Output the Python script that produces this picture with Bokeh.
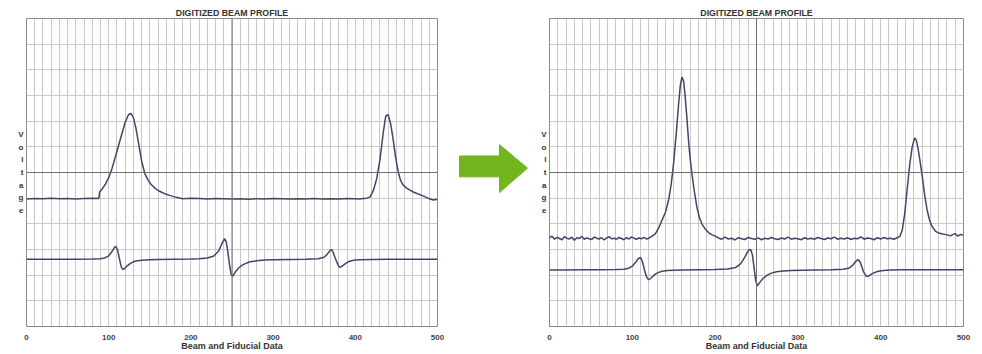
from bokeh.plotting import figure
from bokeh.models import Range1d, FixedTicker, SingleIntervalTicker, Span
from bokeh.layouts import row
from bokeh.embed import file_html
from bokeh.resources import INLINE

TITLE = "DIGITIZED BEAM PROFILE"
X_LABEL = "Beam and Fiducial Data"
Y_LABEL = "Voltage"
x_ticks = [0, 100, 200, 300, 400, 500]
center_x = 250
center_y = 6

# ---- left panel (before) ----
left_beam_x = [0, 10, 20, 30, 40, 50, 60, 70, 80, 88, 89, 92, 96, 100, 104, 108, 112, 116, 120, 124, 127,
               130, 133, 136, 140, 144, 148, 152, 156, 160, 165, 170, 175, 180, 185, 190, 200, 210, 220,
               230, 240, 250, 260, 270, 280, 290, 300, 310, 320, 330, 340, 350, 360, 370, 380, 390, 400,
               405, 410, 414, 418, 422, 426, 430, 434, 437, 440, 443, 446, 449, 452, 455, 458, 462, 466,
               470, 475, 480, 485, 490, 495, 500]
left_beam_y = [4.97, 4.99, 4.98, 5.00, 4.98, 4.99, 4.97, 4.99, 5.00, 4.99, 5.25, 5.35, 5.55, 5.80, 6.15,
               6.60, 7.05, 7.50, 7.95, 8.25, 8.30, 8.15, 7.75, 7.20, 6.45, 5.95, 5.70, 5.52, 5.40, 5.30,
               5.22, 5.15, 5.10, 5.05, 5.02, 4.98, 5.00, 4.99, 4.97, 4.99, 4.98, 4.97, 4.98, 4.96, 4.98,
               4.97, 4.99, 4.98, 4.97, 4.98, 4.97, 4.99, 4.97, 4.98, 4.97, 4.99, 4.98, 4.97, 4.99, 5.00,
               5.05, 5.30, 5.75, 6.50, 7.55, 8.20, 8.25, 7.90, 7.30, 6.60, 6.05, 5.70, 5.52, 5.40, 5.32,
               5.25, 5.18, 5.12, 5.05, 4.98, 4.93, 4.96]

left_fid_x = [0, 20, 40, 60, 80, 90, 95, 100, 104, 107, 109, 111, 113, 115, 117, 119, 122, 126, 130, 135,
              140, 150, 160, 180, 200, 210, 220, 228, 234, 238, 241, 243, 245, 247, 249, 251, 254, 258,
              262, 266, 272, 280, 290, 300, 320, 340, 355, 362, 366, 369, 371, 373, 375, 377, 379, 381,
              384, 388, 392, 398, 405, 420, 440, 460, 480, 500]
left_fid_y = [2.62, 2.62, 2.62, 2.62, 2.63, 2.64, 2.67, 2.75, 2.92, 3.08, 3.12, 2.95, 2.65, 2.35, 2.22,
              2.25, 2.35, 2.45, 2.52, 2.56, 2.58, 2.60, 2.61, 2.62, 2.63, 2.64, 2.67, 2.75, 2.95, 3.25,
              3.42, 3.30, 2.90, 2.40, 2.02, 1.96, 2.12, 2.28, 2.38, 2.45, 2.52, 2.56, 2.59, 2.60, 2.61,
              2.62, 2.64, 2.70, 2.82, 2.95, 3.00, 2.90, 2.72, 2.55, 2.40, 2.31, 2.35, 2.45, 2.53, 2.58,
              2.60, 2.61, 2.62, 2.62, 2.62, 2.62]

# ---- right panel (after) ----
right_beam_x = [0, 3, 6, 9, 12, 15, 18, 21, 24, 27, 30, 33, 36, 39, 42, 45, 48, 51, 54, 57, 60, 63, 66,
                69, 72, 75, 78, 81, 84, 87, 90, 93, 96, 99, 102, 105, 108, 111, 114, 117, 120, 124, 128,
                132, 136, 140, 144, 147, 150, 153, 156, 158, 160, 162, 164, 166, 168, 170, 172, 175, 178,
                181, 184, 188, 192, 196, 200, 204, 208, 212, 216, 220, 224, 228, 232, 236, 240, 244, 248,
                252, 256, 260, 264, 268, 272, 276, 280, 284, 288, 292, 296, 300, 304, 308, 312, 316, 320,
                324, 328, 332, 336, 340, 344, 348, 352, 356, 360, 364, 368, 372, 376, 380, 384, 388, 392,
                396, 400, 404, 408, 412, 416, 420, 423, 426, 429, 432, 435, 438, 441, 443, 445, 447, 450,
                453, 456, 459, 462, 466, 470, 475, 480, 484, 487, 490, 493, 496, 500]
right_beam_y = [3.45, 3.52, 3.40, 3.47, 3.43, 3.38, 3.50, 3.44, 3.41, 3.48, 3.36, 3.46, 3.43, 3.51, 3.40,
                3.45, 3.42, 3.39, 3.49, 3.44, 3.41, 3.46, 3.37, 3.45, 3.50, 3.42, 3.44, 3.40, 3.47, 3.43,
                3.38, 3.46, 3.41, 3.49, 3.44, 3.40, 3.45, 3.42, 3.47, 3.41, 3.44, 3.52, 3.62, 3.85, 4.15,
                4.45, 4.95, 5.55, 6.40, 7.50, 8.70, 9.40, 9.72, 9.55, 8.90, 8.10, 7.20, 6.50, 5.95, 5.25,
                4.65, 4.25, 4.00, 3.80, 3.66, 3.58, 3.52, 3.45, 3.40, 3.48, 3.41, 3.44, 3.37, 3.46, 3.42,
                3.39, 3.47, 3.43, 3.40, 3.45, 3.38, 3.44, 3.41, 3.47, 3.42, 3.39, 3.45, 3.41, 3.48, 3.40,
                3.44, 3.42, 3.38, 3.46, 3.41, 3.44, 3.40, 3.47, 3.43, 3.39, 3.45, 3.42, 3.48, 3.40, 3.44,
                3.41, 3.46, 3.39, 3.44, 3.42, 3.49, 3.40, 3.45, 3.43, 3.38, 3.46, 3.41, 3.47, 3.42, 3.44,
                3.40, 3.46, 3.50, 3.75, 4.40, 5.35, 6.30, 7.00, 7.35, 7.25, 6.95, 6.55, 5.90, 5.15, 4.55,
                4.15, 3.90, 3.72, 3.64, 3.60, 3.57, 3.53, 3.58, 3.62, 3.52, 3.58, 3.56]

right_fid_x = [0, 20, 40, 60, 80, 90, 96, 100, 104, 107, 110, 112, 114, 116, 118, 120, 123, 127, 131, 136,
               142, 150, 160, 180, 200, 215, 225, 231, 236, 239, 241, 243, 245, 247, 249, 251, 254, 258,
               263, 268, 274, 282, 292, 305, 320, 340, 355, 362, 366, 369, 371, 373, 375, 377, 379, 382,
               384, 387, 391, 396, 403, 412, 425, 440, 460, 480, 500]
right_fid_y = [2.20, 2.20, 2.21, 2.21, 2.22, 2.23, 2.27, 2.35, 2.50, 2.64, 2.69, 2.55, 2.30, 2.05, 1.88,
               1.82, 1.90, 2.02, 2.10, 2.15, 2.18, 2.19, 2.20, 2.21, 2.22, 2.24, 2.30, 2.45, 2.70, 2.90,
               2.98, 3.00, 2.80, 2.30, 1.80, 1.58, 1.72, 1.88, 2.00, 2.08, 2.13, 2.16, 2.18, 2.19, 2.20,
               2.21, 2.23, 2.28, 2.38, 2.50, 2.57, 2.60, 2.52, 2.35, 2.15, 1.98, 1.94, 2.00, 2.08, 2.14,
               2.18, 2.20, 2.21, 2.21, 2.21, 2.21, 2.21]

# ---- arrow shape (pixel units of the middle panel, y downward) ----
arrow_x = [11, 51, 51, 79, 51, 51, 11]
arrow_y = [158, 158, 145, 172, 200, 182, 182]

FONT = "Liberation Sans"
TRACE = "#3f4667"
GRID = "#c8c8c8"
H = 354


def panel(bx, by, fx, fy, width, left):
    p = figure(width=width, height=H, x_range=Range1d(0, 500), y_range=Range1d(0, 12),
               output_backend="svg", toolbar_location=None, title=TITLE,
               min_border_left=left, min_border_right=11, min_border_top=18, min_border_bottom=28)
    p.title.align = "center"
    p.title.text_font = FONT
    p.title.text_font_size = "8.8px"
    p.title.text_font_style = "bold"
    p.title.text_color = "#333333"
    p.title.standoff = 2
    p.title.offset = 0

    p.xaxis.ticker = FixedTicker(ticks=x_ticks)
    p.xaxis.axis_label = X_LABEL
    p.xaxis.axis_line_color = None
    p.xaxis.major_tick_line_color = None
    p.xaxis.minor_tick_line_color = None
    p.xaxis.major_tick_in = 0
    p.xaxis.major_tick_out = 0
    p.xaxis.minor_tick_in = 0
    p.xaxis.minor_tick_out = 0
    p.xaxis.major_label_standoff = 8
    p.xaxis.axis_label_standoff = -2
    p.xaxis.major_label_text_font = FONT
    p.xaxis.major_label_text_font_size = "8px"
    p.xaxis.major_label_text_font_style = "bold"
    p.xaxis.major_label_text_color = "#444444"
    p.xaxis.axis_label_text_font = FONT
    p.xaxis.axis_label_text_font_size = "9px"
    p.xaxis.axis_label_text_font_style = "bold"
    p.xaxis.axis_label_text_color = "#333333"

    p.yaxis.ticker = FixedTicker(ticks=[])
    p.yaxis.axis_label = "\n".join(Y_LABEL)
    p.yaxis.axis_label_orientation = "horizontal"
    p.yaxis.axis_line_color = None
    p.yaxis.major_tick_line_color = None
    p.yaxis.minor_tick_line_color = None
    p.yaxis.axis_label_standoff = 3
    p.yaxis.axis_label_text_font = FONT
    p.yaxis.axis_label_text_font_size = "8px"
    p.yaxis.axis_label_text_line_height = 1.4
    p.yaxis.axis_label_text_font_style = "bold"
    p.yaxis.axis_label_text_color = "#333333"

    p.xgrid.ticker = SingleIntervalTicker(interval=10)
    p.ygrid.ticker = SingleIntervalTicker(interval=1)
    p.grid.grid_line_color = GRID
    p.grid.grid_line_width = 1
    p.outline_line_color = "#8a8a8a"

    p.add_layout(Span(location=center_x, dimension="height", line_color="#707070", line_width=1))
    p.add_layout(Span(location=center_y, dimension="width", line_color="#707070", line_width=1))

    p.line(bx, by, line_color=TRACE, line_width=1.5)
    p.line(fx, fy, line_color=TRACE, line_width=1.5)
    return p


left_p = panel(left_beam_x, left_beam_y, left_fid_x, left_fid_y, 448, 26)
right_p = panel(right_beam_x, right_beam_y, right_fid_x, right_fid_y, 444, 19)

mid = figure(width=82, height=H, x_range=Range1d(0, 82), y_range=Range1d(H, 0),
             output_backend="svg", toolbar_location=None, min_border=0)
mid.axis.visible = False
mid.grid.visible = False
mid.outline_line_color = None
mid.patch(arrow_x, arrow_y, fill_color="#73b51e", line_color="#73b51e")

layout = row(left_p, mid, right_p)
open("out.html", "w").write(file_html(layout, INLINE))
